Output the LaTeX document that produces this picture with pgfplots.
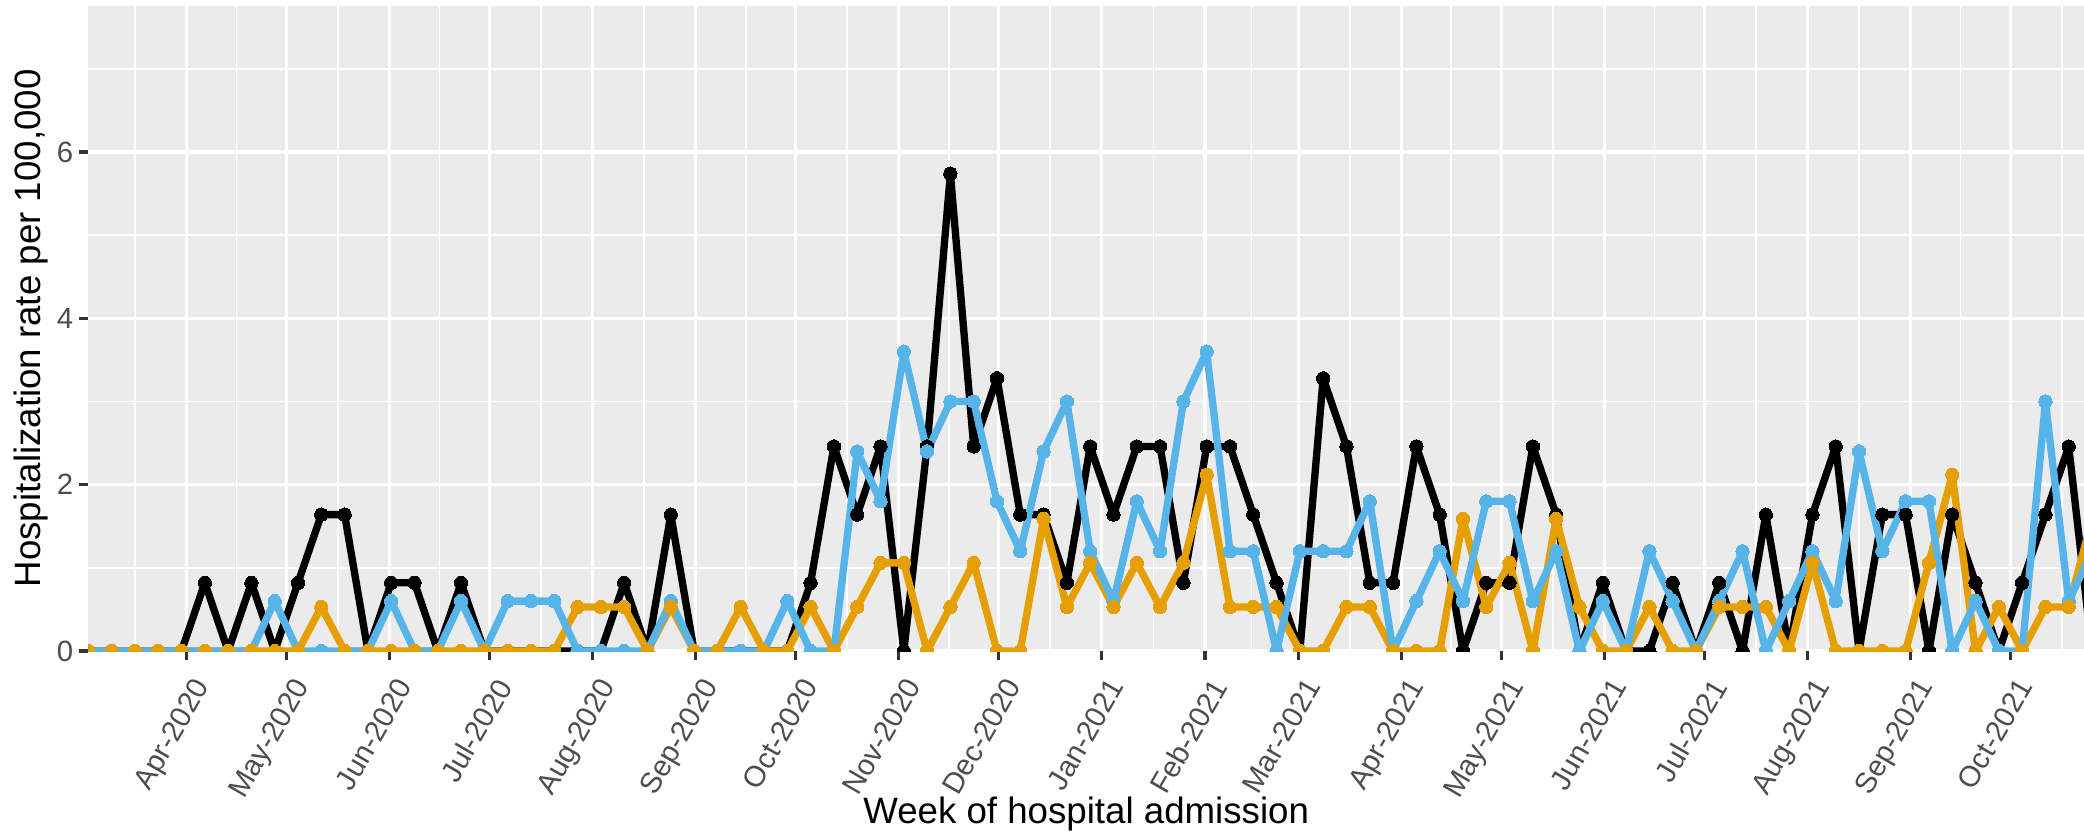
\documentclass[border=0pt]{standalone}
\usepackage{fontspec}
\setmainfont{Liberation Sans}
\usepackage{pgfplots}
\usepackage{pgfplotstable}
\pgfplotsset{compat=1.18}

\definecolor{panelbg}{HTML}{EBEBEB}
\definecolor{ticktext}{HTML}{4D4D4D}
\definecolor{tickmark}{HTML}{333333}
\definecolor{cblue}{HTML}{56B4E9}
\definecolor{corange}{HTML}{E69F00}

% weekly rates; d = days since 1 Apr 2020
\pgfplotstableread{
d      black  blue  orange
-29.5  0     0    0
-22.5  0     0    0
-15.5  0     0    0
-8.5   0     0    0
-1.5   0     0    0
5.5    0.82  0    0
12.5   0     0    0
19.5   0.82  0    0
26.5   0     0.6  0
33.5   0.82  0    0
40.5   1.64  0    0.53
47.5   1.64  0    0
54.5   0     0    0
61.5   0.82  0.6  0
68.5   0.82  0    0
75.5   0     0    0
82.5   0.82  0.6  0
89.5   0     0    0
96.5   0     0.6  0
103.5  0     0.6  0
110.5  0     0.6  0
117.5  0     0    0.53
124.5  0     0    0.53
131.5  0.82  0    0.53
138.5  0     0    0
145.5  1.64  0.6  0.53
152.5  0     0    0
159.5  0     0    0
166.5  0     0    0.53
173.5  0     0    0
180.5  0     0.6  0
187.5  0.82  0    0.53
194.5  2.46  0    0
201.5  1.64  2.4  0.53
208.5  2.46  1.8  1.06
215.5  0     3.6  1.06
222.5  2.46  2.4  0
229.5  5.74  3.0  0.53
236.5  2.46  3.0  1.06
243.5  3.28  1.8  0
250.5  1.64  1.2  0
257.5  1.64  2.4  1.59
264.5  0.82  3.0  0.53
271.5  2.46  1.2  1.06
278.5  1.64  0.6  0.53
285.5  2.46  1.8  1.06
292.5  2.46  1.2  0.53
299.5  0.82  3.0  1.06
306.5  2.46  3.6  2.12
313.5  2.46  1.2  0.53
320.5  1.64  1.2  0.53
327.5  0.82  0    0.53
334.5  0     1.2  0
341.5  3.28  1.2  0
348.5  2.46  1.2  0.53
355.5  0.82  1.8  0.53
362.5  0.82  0    0
369.5  2.46  0.6  0
376.5  1.64  1.2  0
383.5  0     0.6  1.59
390.5  0.82  1.8  0.53
397.5  0.82  1.8  1.06
404.5  2.46  0.6  0
411.5  1.64  1.2  1.59
418.5  0     0    0.53
425.5  0.82  0.6  0
432.5  0     0    0
439.5  0     1.2  0.53
446.5  0.82  0.6  0
453.5  0     0    0
460.5  0.82  0.6  0.53
467.5  0     1.2  0.53
474.5  1.64  0    0.53
481.5  0     0.6  0
488.5  1.64  1.2  1.06
495.5  2.46  0.6  0
502.5  0     2.4  0
509.5  1.64  1.2  0
516.5  1.64  1.8  0
523.5  0     1.8  1.06
530.5  1.64  0    2.12
537.5  0.82  0.6  0
544.5  0     0    0.53
551.5  0.82  0    0
558.5  1.64  3.0  0.53
565.5  2.46  0.6  0.53
572.5  0     1.2  1.59
}\hosp

\begin{document}
\begin{tikzpicture}
\begin{axis}[
    name=ax, at={(0,0)}, anchor=south west,
    scale only axis, width=598.7pt, height=193.6pt,
    xmin=-29.5, xmax=570.1, ymin=0, ymax=7.76,
    axis x line*=bottom, axis y line*=left,
    axis line style={draw=none},
    axis background/.style={fill=panelbg},
    xtick={0,30,61,91,122,153,183,214,244,275,306,334,365,395,426,456,487,518,548},
    xticklabels={Apr-2020,May-2020,Jun-2020,Jul-2020,Aug-2020,Sep-2020,Oct-2020,Nov-2020,Dec-2020,Jan-2021,Feb-2021,Mar-2021,Apr-2021,May-2021,Jun-2021,Jul-2021,Aug-2021,Sep-2021,Oct-2021},
    minor xtick={-15.5,15,45.5,76,106.5,137.5,168,198.5,229,259.5,290.5,320,349.5,380,410.5,441,471.5,502.5,533,563.5},
    ytick={0,2,4,6}, minor ytick={1,3,5,7},
    grid=both,
    major grid style={white, line width=1pt},
    minor grid style={white, line width=0.5pt},
    tick align=outside, tick pos=left,
    major tick length=2.75pt, minor tick length=0pt,
    tick style={tickmark, line width=1pt},
    /pgf/number format/assume math mode=true,
    xticklabel style={xshift=1.6pt, yshift=-4.6pt, rotate=60, anchor=north east, inner sep=0pt,
        font=\fontsize{8.8}{10}\selectfont, text=ticktext},
    yticklabel style={anchor=east, inner sep=0pt, xshift=-1.6pt,
        font=\fontsize{8.8}{10}\selectfont, text=ticktext},
    xlabel={Week of hospital admission},
    ylabel={Hospitalization rate per 100,000},
    xlabel style={at={(axis description cs:0.5,-0.268)}, anchor=base,
        font=\fontsize{11}{13}\selectfont},
    ylabel style={at={(axis description cs:-0.0242,0.5)}, anchor=base,
        font=\fontsize{11}{13}\selectfont},
    clip marker paths=true,
]
\addplot[black, line width=2.2pt, line join=round, no marks] table[x=d, y=black]{\hosp};
\addplot[corange, line width=2.2pt, line join=round, no marks] table[x=d, y=orange]{\hosp};
\addplot[cblue, line width=2.2pt, line join=round, no marks] table[x=d, y=blue]{\hosp};
\addplot[black, only marks, mark=*, mark size=2pt, mark options={line width=0pt, draw=black, fill=black}] table[x=d, y=black]{\hosp};
\addplot[cblue, only marks, mark=*, mark size=2pt, mark options={line width=0pt, draw=cblue, fill=cblue}] table[x=d, y=blue]{\hosp};
\addplot[corange, only marks, mark=*, mark size=2pt, mark options={line width=0pt, draw=corange, fill=corange}] table[x=d, y=orange]{\hosp};
\end{axis}
\pgfresetboundingbox
\path[use as bounding box] (-26.5pt,-54.3pt) rectangle (598.7pt,195.3pt);
\end{tikzpicture}
\end{document}
